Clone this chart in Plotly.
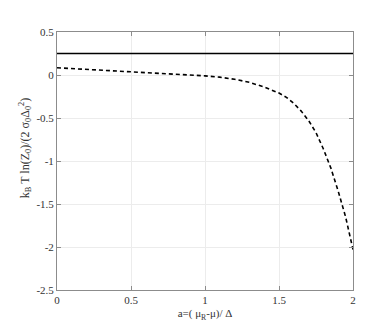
import plotly.graph_objects as go

# dashed curve
a_vals = [0.0, 0.25, 0.5, 0.75, 1.0, 1.1, 1.2, 1.3, 1.4, 1.5, 1.55, 1.6, 1.65, 1.7, 1.75, 1.8, 1.85, 1.9, 1.95, 2.0]
f_vals = [0.084, 0.062, 0.038, 0.018, -0.01, -0.025, -0.05, -0.085, -0.14, -0.21, -0.26, -0.33, -0.42, -0.53, -0.67, -0.86, -1.08, -1.35, -1.65, -2.03]

# solid reference line
ref_a = [0.0, 2.0]
ref_f = [0.25, 0.25]

x_ticks = [0, 0.5, 1, 1.5, 2]
x_tick_text = ['0', '0.5', '1', '1.5', '2']
y_ticks = [0.5, 0, -0.5, -1, -1.5, -2, -2.5]
y_tick_text = ['0.5', '0', '-0.5', '-1', '-1.5', '-2', '-2.5']

serif = 'Liberation Serif, Times New Roman, serif'

fig = go.Figure()
fig.add_trace(go.Scatter(x=ref_a, y=ref_f, mode='lines',
                         line=dict(color='black', width=1.6), showlegend=False))
fig.add_trace(go.Scatter(x=a_vals, y=f_vals, mode='lines',
                         line=dict(color='black', width=1.6, dash='4px,3px'), showlegend=False))

axis_style = dict(showline=True, linecolor='#8c8c8c', linewidth=1, mirror='ticks',
                  ticks='inside', ticklen=4, tickcolor='#8c8c8c',
                  showgrid=True, gridcolor='#ececec', gridwidth=1, zeroline=False,
                  tickfont=dict(family=serif, size=11, color='#333333'))

fig.update_layout(
    width=382, height=322,
    margin=dict(l=49, r=37, t=24, b=37),
    paper_bgcolor='white', plot_bgcolor='white',
    font=dict(family=serif, size=11, color='#333333'),
    xaxis=dict(range=[0, 2], tickvals=x_ticks, ticktext=x_tick_text,
               title=dict(text='a=( μ<sub>R</sub>-μ)/ Δ', standoff=4,
                          font=dict(family=serif, size=11, color='#333333')),
               **axis_style),
    yaxis=dict(range=[-2.5, 0.5], tickvals=y_ticks, ticktext=y_tick_text, **axis_style),
)

fig.add_annotation(text='k<sub>B</sub> T ln(Z<sub>0</sub>)/(2 σ<sub>0</sub>Δ<sub>0</sub><sup>2</sup>)',
                   xref='paper', yref='paper', x=-0.108, y=0.55, textangle=-90,
                   xanchor='center', yanchor='middle',
                   showarrow=False, font=dict(family=serif, size=12, color='#333333'))

fig.write_html("out.html")
